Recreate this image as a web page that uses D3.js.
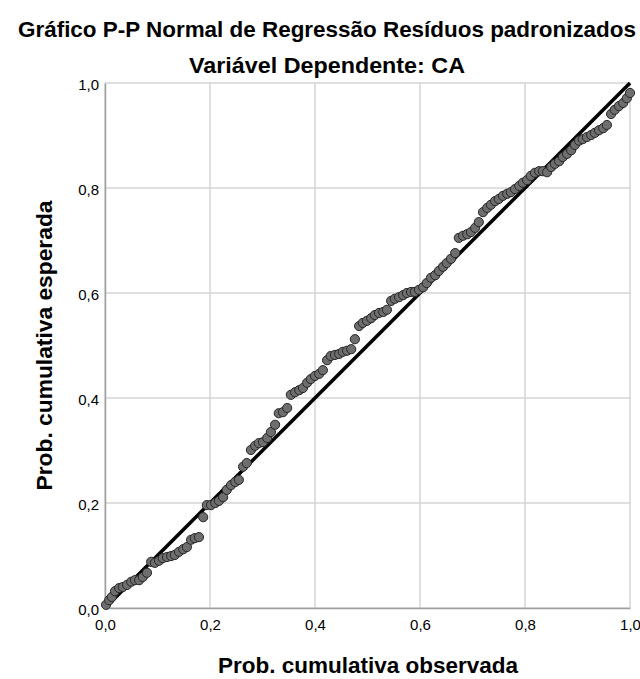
<!DOCTYPE html>
<html>
<head>
<meta charset="utf-8">
<script src="https://cdn.jsdelivr.net/npm/d3@7"></script>
<style>
  body { margin: 0; background: #fff; }
  text { font-family: "Liberation Sans", Arial, sans-serif; fill: #000; }
</style>
</head>
<body>
<div id="chart"></div>
<script>
// observed cumulative probability (x) and expected cumulative probability (y)
const observed = [
    0.002, 0.008, 0.013, 0.019, 0.027, 0.034, 0.042, 0.050, 0.057, 0.065,
    0.072, 0.080, 0.088, 0.095, 0.103, 0.110, 0.118, 0.126, 0.133, 0.141,
    0.149, 0.156, 0.164, 0.171, 0.179, 0.187, 0.194, 0.202, 0.210, 0.217,
    0.225, 0.232, 0.240, 0.248, 0.255, 0.263, 0.270, 0.278, 0.286, 0.293,
    0.301, 0.309, 0.316, 0.324, 0.331, 0.339, 0.347, 0.354, 0.362, 0.370,
    0.377, 0.385, 0.392, 0.400, 0.408, 0.415, 0.423, 0.430, 0.438, 0.446,
    0.453, 0.461, 0.469, 0.476, 0.484, 0.491, 0.499, 0.507, 0.514, 0.522,
    0.530, 0.537, 0.545, 0.552, 0.560, 0.568, 0.575, 0.583, 0.590, 0.598,
    0.606, 0.613, 0.621, 0.629, 0.636, 0.644, 0.651, 0.659, 0.667, 0.674,
    0.682, 0.690, 0.697, 0.705, 0.712, 0.720, 0.728, 0.735, 0.743, 0.750,
    0.758, 0.766, 0.773, 0.781, 0.789, 0.796, 0.804, 0.811, 0.819, 0.827,
    0.834, 0.842, 0.850, 0.857, 0.865, 0.872, 0.880, 0.888, 0.895, 0.903,
    0.910, 0.918, 0.926, 0.933, 0.941, 0.949, 0.956, 0.964, 0.971, 0.979,
    0.987, 0.994, 1.000
];
const expected = [
    0.006, 0.015, 0.021, 0.032, 0.038, 0.040, 0.044, 0.050, 0.053, 0.053,
    0.059, 0.067, 0.088, 0.086, 0.090, 0.095, 0.097, 0.099, 0.101, 0.107,
    0.112, 0.116, 0.130, 0.133, 0.135, 0.173, 0.196, 0.196, 0.200, 0.204,
    0.211, 0.225, 0.234, 0.240, 0.244, 0.269, 0.276, 0.301, 0.309, 0.314,
    0.316, 0.324, 0.335, 0.349, 0.371, 0.373, 0.381, 0.406, 0.411, 0.415,
    0.419, 0.429, 0.436, 0.442, 0.446, 0.453, 0.472, 0.480, 0.482, 0.484,
    0.488, 0.490, 0.493, 0.512, 0.537, 0.543, 0.547, 0.552, 0.558, 0.562,
    0.564, 0.568, 0.585, 0.589, 0.592, 0.596, 0.600, 0.602, 0.602, 0.606,
    0.611, 0.619, 0.629, 0.634, 0.642, 0.650, 0.657, 0.665, 0.676, 0.705,
    0.709, 0.712, 0.716, 0.724, 0.735, 0.754, 0.762, 0.768, 0.775, 0.779,
    0.785, 0.789, 0.792, 0.798, 0.804, 0.810, 0.815, 0.823, 0.829, 0.832,
    0.832, 0.830, 0.840, 0.846, 0.851, 0.859, 0.865, 0.872, 0.882, 0.890,
    0.893, 0.897, 0.901, 0.905, 0.910, 0.914, 0.920, 0.941, 0.949, 0.956,
    0.962, 0.971, 0.981
];
const tickValues = [0, 0.2, 0.4, 0.6, 0.8, 1.0];
const title = 'Gráfico P-P Normal de Regressão Resíduos padronizados';
const subtitle = 'Variável Dependente: CA';
const xTitle = 'Prob. cumulativa observada';
const yTitle = 'Prob. cumulativa esperada';

const chartWidth = 640;
const chartHeight = 679;
const plot = { left: 105, right: 630, top: 83, bottom: 608 };

const data = observed.map((d, i) => [d, expected[i]]);
const fmt = d => d3.format('.1f')(d).replace('.', ',');

const svg = d3.select('#chart')
    .append('svg')
    .attr('width', chartWidth)
    .attr('height', chartHeight);

const xScale = d3.scaleLinear()
    .domain([0, 1])
    .range([plot.left, plot.right]);

const yScale = d3.scaleLinear()
    .domain([0, 1])
    .range([plot.bottom, plot.top]);

// grid
svg.append('g')
    .selectAll('line')
    .data(tickValues)
    .enter()
    .append('line')
    .attr('x1', d => xScale(d))
    .attr('x2', d => xScale(d))
    .attr('y1', plot.top)
    .attr('y2', plot.bottom)
    .attr('stroke', '#d4d4d4')
    .attr('stroke-width', 1.5);

svg.append('g')
    .selectAll('line')
    .data(tickValues)
    .enter()
    .append('line')
    .attr('x1', plot.left)
    .attr('x2', plot.right)
    .attr('y1', d => yScale(d))
    .attr('y2', d => yScale(d))
    .attr('stroke', '#d4d4d4')
    .attr('stroke-width', 1.5);

const xAxis = d3.axisBottom(xScale)
    .tickValues(tickValues)
    .tickSize(0)
    .tickPadding(14)
    .tickFormat(fmt);

svg.append('g')
    .attr('class', 'x-axis')
    .attr('transform', 'translate(0,' + plot.bottom + ')')
    .call(xAxis);

const yAxis = d3.axisLeft(yScale)
    .tickValues(tickValues)
    .tickSize(0)
    .tickPadding(6)
    .tickFormat(fmt);

svg.append('g')
    .attr('class', 'y-axis')
    .attr('transform', 'translate(' + plot.left + ',0)')
    .call(yAxis);

svg.selectAll('.x-axis text, .y-axis text')
    .attr('font-size', 15)
    .attr('font-family', '"Liberation Sans", Arial, sans-serif')
    .attr('fill', '#000');
svg.selectAll('.y-axis text').attr('dy', '0.4em');
svg.selectAll('.x-axis text').attr('dy', '0.5em');
svg.selectAll('.x-axis .domain, .y-axis .domain')
    .attr('stroke', '#a0a0a0')
    .attr('stroke-width', 1.5);

// reference line
svg.append('line')
    .attr('x1', xScale(0))
    .attr('y1', yScale(0))
    .attr('x2', xScale(1))
    .attr('y2', yScale(1))
    .attr('stroke', '#000')
    .attr('stroke-width', 3.5);

svg.append('g')
    .selectAll('circle')
    .data(data)
    .enter()
    .append('circle')
    .attr('cx', d => xScale(d[0]))
    .attr('cy', d => yScale(d[1]))
    .attr('r', 4.6)
    .attr('fill', '#6e6e6e')
    .attr('stroke', '#262626')
    .attr('stroke-width', 1);

// titles
svg.append('text')
    .attr('x', 327)
    .attr('y', 37)
    .attr('text-anchor', 'middle')
    .attr('font-size', 21.5)
    .attr('font-weight', 'bold')
    .attr('textLength', 618)
    .attr('lengthAdjust', 'spacingAndGlyphs')
    .text(title);

svg.append('text')
    .attr('x', 327)
    .attr('y', 73)
    .attr('text-anchor', 'middle')
    .attr('font-size', 22)
    .attr('font-weight', 'bold')
    .attr('textLength', 276)
    .attr('lengthAdjust', 'spacingAndGlyphs')
    .text(subtitle);

svg.append('text')
    .attr('x', 368)
    .attr('y', 673)
    .attr('text-anchor', 'middle')
    .attr('font-size', 21.5)
    .attr('font-weight', 'bold')
    .attr('textLength', 300)
    .attr('lengthAdjust', 'spacingAndGlyphs')
    .text(xTitle);

svg.append('text')
    .attr('transform', 'translate(52,' + ((plot.top + plot.bottom) / 2) + ') rotate(-90)')
    .attr('text-anchor', 'middle')
    .attr('font-size', 21.5)
    .attr('font-weight', 'bold')
    .attr('textLength', 290)
    .attr('lengthAdjust', 'spacingAndGlyphs')
    .text(yTitle);
</script>
</body>
</html>
